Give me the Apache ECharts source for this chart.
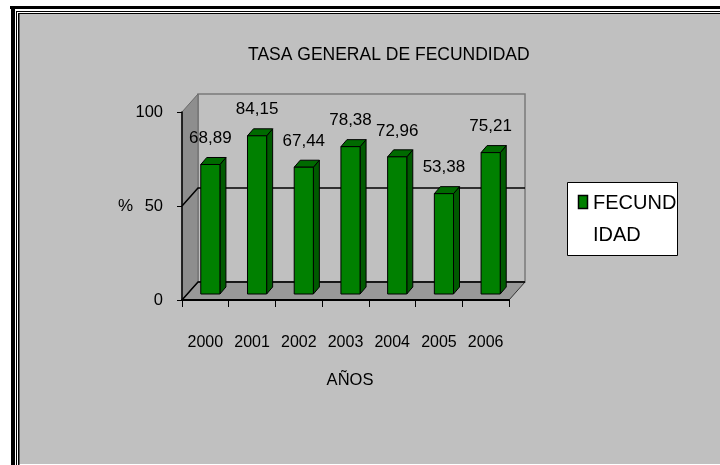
<!DOCTYPE html>
<html>
<head>
<meta charset="utf-8">
<script src="https://cdn.jsdelivr.net/npm/echarts@6/dist/echarts.min.js"></script>
<style>
html,body{margin:0;padding:0;background:#fff;}
#c{width:720px;height:465px;}
</style>
</head>
<body>
<div id="c"></div>
<script>
const categories = ['2000', '2001', '2002', '2003', '2004', '2005', '2006'];
const fecundidad = [68.89, 84.15, 67.44, 78.38, 72.96, 53.38, 75.21];
const yTicks = [0, 50, 100];
const titleText = 'TASA GENERAL DE FECUNDIDAD';
const seriesName = 'FECUNDIDAD';
const xName = 'AÑOS';
const yName = '%';

const FONT = '"Liberation Sans",Arial,sans-serif';
const DX = 16, DY = -18;           // wall depth
const BX = 5, BY = -6;             // bar front-face offset
const BDX = 6, BDY = -7;           // bar depth

const chart = echarts.init(document.getElementById('c'), null, {renderer: 'canvas'});

function renderWalls(params, api) {
  const n = categories.length;
  const band = api.size([1, 0])[0];
  const xL = api.coord([0, yTicks[0]])[0] - band / 2;
  const xR = api.coord([n - 1, yTicks[0]])[0] + band / 2;
  const y0 = api.coord([0, yTicks[0]])[1];
  const yMax = api.coord([0, yTicks[yTicks.length - 1]])[1];
  const children = [];
  children.push({type: 'polygon', shape: {points: [[xL + DX, yMax + DY], [xR + DX, yMax + DY], [xR + DX, y0 + DY], [xL + DX, y0 + DY]]},
    style: {fill: '#c0c0c0', stroke: '#7a7a7a', lineWidth: 1.5}});
  children.push({type: 'polygon', shape: {points: [[xL, y0], [xL, yMax], [xL + DX, yMax + DY], [xL + DX, y0 + DY]]},
    style: {fill: '#8e8e8e', stroke: '#6a6a6a', lineWidth: 1}});
  children.push({type: 'polygon', shape: {points: [[xL, y0], [xR, y0], [xR + DX, y0 + DY], [xL + DX, y0 + DY]]},
    style: {fill: '#999999', stroke: '#333', lineWidth: 1}});
  yTicks.slice(0, -1).forEach(t => {
    const y = api.coord([0, t])[1];
    children.push({type: 'polyline', shape: {points: [[xL, y], [xL + DX, y + DY], [xR + DX, y + DY]]},
      style: {stroke: '#000', lineWidth: 1.5, fill: null}});
  });
  return {type: 'group', children};
}

function renderBar(params, api) {
  const i = api.value(0), v = api.value(1);
  const base = api.coord([i, 0]);
  const top = api.coord([i, v]);
  const band = api.size([1, 0])[0];
  const w = band * 0.41;
  const cx = base[0] + BX;
  const xl = cx - w / 2, xr = cx + w / 2;
  const yb = base[1] + BY, yt = top[1] + BY;
  const st = {stroke: '#000', lineWidth: 1};
  return {type: 'group', children: [
    {type: 'polygon', shape: {points: [[xr, yt], [xr + BDX, yt + BDY], [xr + BDX, yb + BDY], [xr, yb]]}, style: Object.assign({fill: '#005a00'}, st)},
    {type: 'polygon', shape: {points: [[xl, yt], [xl + BDX, yt + BDY], [xr + BDX, yt + BDY], [xr, yt]]}, style: Object.assign({fill: '#006a00'}, st)},
    {type: 'rect', shape: {x: xl, y: yt, width: w, height: yb - yt}, style: Object.assign({fill: '#008000'}, st)},
    {type: 'text', x: cx, y: yt - 26, style: {text: v.toFixed(2).replace('.', ','), fill: '#000', font: '17px ' + FONT, align: 'center', verticalAlign: 'middle'}}
  ]};
}

const option = {
  animation: false,
  backgroundColor: '#ffffff',
  title: {
    text: titleText, left: 243, top: 41,
    textStyle: {fontFamily: FONT, fontSize: 17.5, fontWeight: 'normal', color: '#000'}
  },
  grid: {left: 182, top: 112, width: 327, height: 188, containLabel: false},
  xAxis: {
    type: 'category', data: categories,
    name: xName, nameLocation: 'middle', nameGap: 72, nameMoveOverlap: false,
    nameTextStyle: {fontFamily: FONT, fontSize: 16.5, color: '#000', padding: [0, 0, 0, 9]},
    axisLine: {lineStyle: {color: '#000', width: 2}},
    axisTick: {show: true, length: 7, alignWithLabel: false, lineStyle: {color: '#000', width: 1}},
    axisLabel: {fontFamily: FONT, fontSize: 16, color: '#000', margin: 35, interval: 0},
    z: 5
  },
  yAxis: {
    type: 'value', min: 0, max: 100, interval: 50,
    name: yName, nameLocation: 'middle', nameRotate: 0, nameGap: 49, nameMoveOverlap: false,
    nameTextStyle: {fontFamily: FONT, fontSize: 17, color: '#000', align: 'right', verticalAlign: 'middle', padding: [0, 0, 4, 0]},
    axisLine: {show: true, lineStyle: {color: '#000', width: 1.5}},
    axisTick: {show: true, length: 5, lineStyle: {color: '#000'}},
    axisLabel: {fontFamily: FONT, fontSize: 16.5, color: '#000', margin: 19},
    splitLine: {show: false},
    z: 5
  },
  series: [
    {type: 'custom', name: 'walls', data: [[0]], renderItem: renderWalls, z: 1, silent: true},
    {type: 'custom', name: seriesName, data: fecundidad.map((v, i) => [i, v]), renderItem: renderBar, z: 3, encode: {x: 0, y: 1}}
  ],
  graphic: [
    {type: 'rect', z: -10, shape: {x: 19, y: 14, width: 701, height: 450}, style: {fill: '#c0c0c0'}},
    {type: 'rect', z: -9, shape: {x: 10, y: 6, width: 710, height: 3}, style: {fill: '#000'}},
    {type: 'rect', z: -9, shape: {x: 11, y: 6, width: 4, height: 459}, style: {fill: '#000'}},
    {type: 'rect', z: -9, shape: {x: 16, y: 11, width: 704, height: 1}, style: {fill: '#000'}},
    {type: 'rect', z: -9, shape: {x: 16, y: 11, width: 1, height: 454}, style: {fill: '#000'}},
    {type: 'rect', z: -9, shape: {x: 18, y: 13, width: 702, height: 1}, style: {fill: '#000'}},
    {type: 'rect', z: -9, shape: {x: 18, y: 13, width: 1.5, height: 452}, style: {fill: '#000'}},
    {type: 'group', z: 10, children: [
      {type: 'rect', shape: {x: 567.5, y: 182.5, width: 110, height: 73}, style: {fill: '#fff', stroke: '#000', lineWidth: 1}},
      {type: 'rect', shape: {x: 578.5, y: 195.5, width: 9, height: 13}, style: {fill: '#008000', stroke: '#000', lineWidth: 1.5}},
      {type: 'text', x: 593, y: 203, style: {text: seriesName.slice(0, 6), font: '20px ' + FONT, fill: '#000', verticalAlign: 'middle'}},
      {type: 'text', x: 593, y: 235, style: {text: seriesName.slice(6), font: '20px ' + FONT, fill: '#000', verticalAlign: 'middle'}}
    ]}
  ]
};
chart.setOption(option);
</script>
</body>
</html>
